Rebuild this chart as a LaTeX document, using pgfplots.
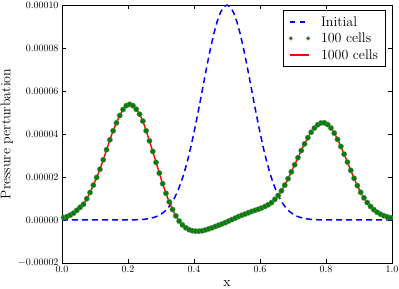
\documentclass[border=0pt]{standalone}
\usepackage{fontspec}
\usepackage{pgfplots}
\usepackage{pgfplotstable}
\pgfplotsset{compat=1.18}
\definecolor{mblue}{rgb}{0,0,1}
\definecolor{mgreen}{rgb}{0,0.5,0}
\definecolor{mred}{rgb}{1,0,0}

\pgfplotstableread{
x y
0.005 1.1e-6
0.015 1.6e-6
0.025 2.3e-6
0.035 3.2e-6
0.045 4.5e-6
0.055 5.9e-6
0.065 7.3e-6
0.075 9.9e-6
0.085 12.8e-6
0.095 16.2e-6
0.105 19.8e-6
0.115 23.6e-6
0.125 28.0e-6
0.135 32.7e-6
0.145 37.3e-6
0.155 41.5e-6
0.165 45.2e-6
0.175 48.6e-6
0.185 51.4e-6
0.195 53.2e-6
0.205 53.8e-6
0.215 53.2e-6
0.225 51.5e-6
0.235 49.2e-6
0.245 46.0e-6
0.255 41.5e-6
0.265 36.8e-6
0.275 31.9e-6
0.285 26.8e-6
0.295 21.8e-6
0.305 16.9e-6
0.315 12.4e-6
0.325 8.4e-6
0.335 4.9e-6
0.345 1.9e-6
0.355 -0.5e-6
0.365 -2.3e-6
0.375 -3.6e-6
0.385 -4.5e-6
0.395 -5.0e-6
0.405 -5.2e-6
0.415 -5.2e-6
0.425 -5.0e-6
0.435 -4.6e-6
0.445 -4.1e-6
0.455 -3.6e-6
0.465 -3.0e-6
0.475 -2.4e-6
0.485 -1.8e-6
0.495 -1.2e-6
0.505 -0.5e-6
0.515 0.2e-6
0.525 0.9e-6
0.535 1.6e-6
0.545 2.2e-6
0.555 2.8e-6
0.565 3.4e-6
0.575 4.0e-6
0.585 4.5e-6
0.595 5.0e-6
0.605 5.6e-6
0.615 6.3e-6
0.625 7.1e-6
0.635 8.1e-6
0.645 9.6e-6
0.655 11.4e-6
0.665 13.6e-6
0.675 16.2e-6
0.685 19.2e-6
0.695 22.4e-6
0.705 25.7e-6
0.715 29.0e-6
0.725 32.3e-6
0.735 35.4e-6
0.745 38.3e-6
0.755 40.8e-6
0.765 42.8e-6
0.775 44.3e-6
0.785 45.1e-6
0.795 45.2e-6
0.805 44.4e-6
0.815 42.8e-6
0.825 40.4e-6
0.835 37.5e-6
0.845 34.2e-6
0.855 30.6e-6
0.865 26.9e-6
0.875 23.1e-6
0.885 19.4e-6
0.895 16.0e-6
0.905 12.9e-6
0.915 10.3e-6
0.925 8.1e-6
0.935 6.3e-6
0.945 4.8e-6
0.955 3.6e-6
0.965 2.7e-6
0.975 2.0e-6
0.985 1.5e-6
0.995 1.1e-6
}\celltable

\pgfplotstableread{
x y
0.000 1.0e-6
0.005 1.1e-6
0.015 1.6e-6
0.025 2.3e-6
0.035 3.2e-6
0.045 4.5e-6
0.055 5.9e-6
0.065 7.3e-6
0.075 9.9e-6
0.085 12.8e-6
0.095 16.2e-6
0.105 19.8e-6
0.115 23.6e-6
0.125 28.0e-6
0.135 32.7e-6
0.145 37.3e-6
0.155 41.5e-6
0.165 45.2e-6
0.175 48.6e-6
0.185 51.4e-6
0.195 53.2e-6
0.205 53.8e-6
0.215 53.2e-6
0.225 51.5e-6
0.235 49.2e-6
0.245 46.0e-6
0.255 41.5e-6
0.265 36.8e-6
0.275 31.9e-6
0.285 26.8e-6
0.295 21.8e-6
0.305 16.9e-6
0.315 12.4e-6
0.325 8.4e-6
0.335 4.9e-6
0.345 1.9e-6
0.355 -0.5e-6
0.365 -2.3e-6
0.375 -3.6e-6
0.385 -4.5e-6
0.395 -5.0e-6
0.405 -5.2e-6
0.415 -5.2e-6
0.425 -5.0e-6
0.435 -4.6e-6
0.445 -4.1e-6
0.455 -3.6e-6
0.465 -3.0e-6
0.475 -2.4e-6
0.485 -1.8e-6
0.495 -1.2e-6
0.505 -0.5e-6
0.515 0.2e-6
0.525 0.9e-6
0.535 1.6e-6
0.545 2.2e-6
0.555 2.8e-6
0.565 3.4e-6
0.575 4.0e-6
0.585 4.5e-6
0.595 5.0e-6
0.605 5.6e-6
0.615 6.3e-6
0.625 7.1e-6
0.635 8.1e-6
0.645 9.6e-6
0.655 11.4e-6
0.665 13.6e-6
0.675 16.2e-6
0.685 19.2e-6
0.695 22.4e-6
0.705 25.7e-6
0.715 29.0e-6
0.725 32.3e-6
0.735 35.4e-6
0.745 38.3e-6
0.755 40.8e-6
0.765 42.8e-6
0.775 44.3e-6
0.785 45.1e-6
0.795 45.2e-6
0.805 44.4e-6
0.815 42.8e-6
0.825 40.4e-6
0.835 37.5e-6
0.845 34.2e-6
0.855 30.6e-6
0.865 26.9e-6
0.875 23.1e-6
0.885 19.4e-6
0.895 16.0e-6
0.905 12.9e-6
0.915 10.3e-6
0.925 8.1e-6
0.935 6.3e-6
0.945 4.8e-6
0.955 3.6e-6
0.965 2.7e-6
0.975 2.0e-6
0.985 1.5e-6
0.995 1.1e-6
1.000 0.9e-6
}\linetable

\begin{document}
\begin{tikzpicture}
\begin{axis}[
  name=ax,
  scale only axis,
  width=330bp, height=258bp,
  xmin=0, xmax=1, ymin=-0.00002, ymax=0.0001,
  xtick={0,0.2,0.4,0.6,0.8,1},
  ytick={-0.00002,0,0.00002,0.00004,0.00006,0.00008,0.0001},
  scaled y ticks=false, scaled x ticks=false,
  yticklabel style={/pgf/number format/.cd, fixed, fixed zerofill, precision=5},
  xticklabel style={/pgf/number format/.cd, fixed, fixed zerofill, precision=1},
  minor tick num=0,
  tick align=inside,
  major tick length=4bp,
  axis line style={line width=0.8bp},
  every tick/.style={black, line width=0.6bp},
  xlabel={x}, ylabel={Pressure perturbation},
  xlabel style={at={(axis description cs:0.5,-0.081)}, anchor=center, font=\fontsize{14}{16}\selectfont},
  ylabel style={at={(axis description cs:-0.167,0.5)}, anchor=center, font=\fontsize{14}{16}\selectfont},
  legend cell align=left,
  legend style={at={(rel axis cs:1,1)}, anchor=north east, xshift=-6bp, yshift=-5bp,
    draw=black, line width=0.8bp, font=\fontsize{14}{16}\selectfont,
    inner xsep=5.6bp, inner ysep=4.5bp, row sep=2.5bp,
    nodes={inner sep=2bp, text height=9.5bp, text depth=0.5bp},
    /tikz/every odd column/.append style={column sep=8.8bp}},
]
\addplot[mblue, line width=1.5bp, dash pattern=on 6bp off 4bp,
  legend image code/.code={\draw[mblue, line width=1.5bp, dash pattern=on 5bp off 5bp] (0bp,0bp) -- (16bp,0bp);}] coordinates {
(0,0) (0.20,0.0003e-4) (0.21,0.0005e-4) (0.22,0.0009e-4) (0.23,0.0014e-4) (0.24,0.0023e-4)
(0.25,0.0036e-4) (0.26,0.0056e-4) (0.27,0.0086e-4) (0.28,0.0128e-4) (0.29,0.0189e-4)
(0.30,0.0273e-4) (0.31,0.0388e-4) (0.32,0.0541e-4) (0.33,0.0742e-4) (0.34,0.0999e-4)
(0.35,0.1320e-4) (0.36,0.1713e-4) (0.37,0.2185e-4) (0.38,0.2736e-4) (0.39,0.3366e-4)
(0.40,0.4066e-4) (0.41,0.4824e-4) (0.42,0.5621e-4) (0.43,0.6434e-4) (0.44,0.7233e-4)
(0.45,0.7985e-4) (0.46,0.8659e-4) (0.47,0.9222e-4) (0.48,0.9646e-4) (0.49,0.9910e-4)
(0.50,1.0000e-4)
(0.51,0.9910e-4) (0.52,0.9646e-4) (0.53,0.9222e-4) (0.54,0.8659e-4) (0.55,0.7985e-4)
(0.56,0.7233e-4) (0.57,0.6434e-4) (0.58,0.5621e-4) (0.59,0.4824e-4) (0.60,0.4066e-4)
(0.61,0.3366e-4) (0.62,0.2736e-4) (0.63,0.2185e-4) (0.64,0.1713e-4) (0.65,0.1320e-4)
(0.66,0.0999e-4) (0.67,0.0742e-4) (0.68,0.0541e-4) (0.69,0.0388e-4) (0.70,0.0273e-4)
(0.71,0.0189e-4) (0.72,0.0128e-4) (0.73,0.0086e-4) (0.74,0.0056e-4) (0.75,0.0036e-4)
(0.76,0.0023e-4) (0.77,0.0014e-4) (0.78,0.0009e-4) (0.79,0.0005e-4) (0.80,0.0003e-4)
(1,0)
};
\addlegendentry{Initial}
\addplot[mgreen, only marks, mark=*, mark size=2.7bp,
  mark options={fill=mgreen, draw=black!50, line width=0.3bp},
  legend image code/.code={\filldraw[fill=mgreen, draw=black!50, line width=0.3bp] (0.5bp,0bp) circle (1.9bp) (17.8bp,0bp) circle (1.9bp);}
] table {\celltable};
\addlegendentry{100 cells}
\addplot[mred, line width=1.4bp, smooth,
  legend image code/.code={\draw[mred, line width=1.4bp] (0bp,0bp) -- (18.4bp,0bp);}] table {\linetable};
\addlegendentry{1000 cells}
\end{axis}
\pgfresetboundingbox
\path ([shift={(-62bp,-26bp)}]ax.south west) rectangle ([shift={(7bp,5bp)}]ax.north east);
\end{tikzpicture}
\end{document}
